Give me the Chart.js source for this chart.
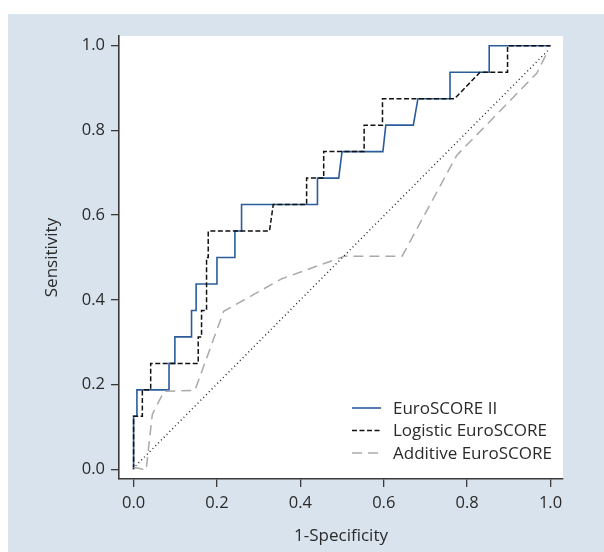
<!DOCTYPE html>
<html>
<head>
<meta charset="utf-8">
<script src="https://cdn.jsdelivr.net/npm/chart.js@4"></script>
<style>
    html, body { margin: 0; padding: 0; background: #ffffff; }
    #wrap { width: 604px; height: 552px; position: relative; }
</style>
</head>
<body>
<div id="wrap"><canvas id="roc" width="604" height="552"></canvas></div>
<script>
// ROC curves
const euro2X = [0, 0, 0.008, 0.008, 0.085, 0.085, 0.099, 0.099, 0.139, 0.139, 0.150, 0.150, 0.200, 0.200, 0.243, 0.243, 0.259, 0.259, 0.441, 0.441, 0.492, 0.500, 0.598, 0.605, 0.671, 0.682, 0.759, 0.759, 0.853, 0.853, 1.0];
const euro2Y = [0, 0.125, 0.125, 0.1875, 0.1875, 0.25, 0.25, 0.3125, 0.3125, 0.375, 0.375, 0.4375, 0.4375, 0.5, 0.5, 0.5625, 0.5625, 0.625, 0.625, 0.6875, 0.6875, 0.75, 0.75, 0.8125, 0.8125, 0.875, 0.875, 0.9375, 0.9375, 1.0, 1.0];

const logisticX = [0, 0, 0.021, 0.021, 0.041, 0.041, 0.155, 0.155, 0.163, 0.163, 0.175, 0.175, 0.179, 0.179, 0.326, 0.335, 0.415, 0.415, 0.456, 0.456, 0.553, 0.553, 0.597, 0.597, 0.770, 0.831, 0.897, 0.897, 1.0];
const logisticY = [0, 0.125, 0.125, 0.1875, 0.1875, 0.25, 0.25, 0.3125, 0.3125, 0.375, 0.375, 0.5, 0.5, 0.5625, 0.5625, 0.625, 0.625, 0.6875, 0.6875, 0.75, 0.75, 0.8125, 0.8125, 0.875, 0.875, 0.9375, 0.9375, 1.0, 1.0];

const additiveX = [0, 0.015, 0.030, 0.045, 0.073, 0.147, 0.216, 0.356, 0.506, 0.644, 0.775, 0.967, 0.995];
const additiveY = [0.004, 0.002, -0.002, 0.13, 0.184, 0.186, 0.373, 0.45, 0.503, 0.503, 0.741, 0.935, 0.99];

const diagX = [0.005, 0.995];
const diagY = [0.008, 0.99];

const seriesNames = ["EuroSCORE II", "Logistic EuroSCORE", "Additive EuroSCORE"];
const xTicks = [0, 0.2, 0.4, 0.6, 0.8, 1.0];
const yTicks = [0, 0.2, 0.4, 0.6, 0.8, 1.0];

const FONT = "'Open Sans', 'Noto Sans', sans-serif";
const TEXT = "#2a2a2a";
const AXIS = "#3a3a3a";

function pts(xs, ys) {
    return xs.map((x, i) => ({ x: x, y: ys[i] }));
}

// light panel behind everything, white plot area
const panelPlugin = {
    id: "panel",
    beforeDraw(chart) {
        const { ctx, chartArea } = chart;
        ctx.save();
        ctx.fillStyle = "#ffffff";
        ctx.fillRect(0, 0, chart.width, chart.height);
        ctx.fillStyle = "#d9e3ed";
        ctx.fillRect(8, 14, chart.width - 8, chart.height - 14);
        ctx.fillStyle = "#ffffff";
        ctx.fillRect(chartArea.left, chartArea.top,
            chartArea.right - chartArea.left, chartArea.bottom - chartArea.top);
        ctx.restore();
    }
};

// legend inside the plot, bottom right (series in name order)
const insideLegend = {
    id: "insideLegend",
    afterDatasetsDraw(chart) {
        const { ctx, chartArea } = chart;
        const x0 = chartArea.left + 233;
        const x1 = x0 + 29;
        const tx = x1 + 12;
        let y = chartArea.bottom - 71;
        ctx.save();
        ctx.font = "17px " + FONT;
        ctx.textBaseline = "middle";
        seriesNames.forEach((name) => {
            const ds = chart.data.datasets.find((d) => d.label === name);
            ctx.beginPath();
            ctx.strokeStyle = ds.borderColor;
            ctx.lineWidth = ds.borderWidth;
            ctx.setLineDash(ds.borderDash || []);
            ctx.moveTo(x0, y);
            ctx.lineTo(x1, y);
            ctx.stroke();
            ctx.setLineDash([]);
            ctx.fillStyle = TEXT;
            ctx.fillText(ds.label, tx, y + 1);
            y += 22.5;
        });
        ctx.restore();
    }
};

new Chart(document.getElementById("roc"), {
    type: "line",
    data: {
        datasets: [
            {
                label: "diagonal",
                data: pts(diagX, diagY),
                borderColor: "#222222",
                borderWidth: 1.4,
                borderDash: [1, 3],
            },
            {
                label: seriesNames[2],
                data: pts(additiveX, additiveY),
                borderColor: "#aaaaaa",
                borderWidth: 1.5,
                borderDash: [10, 6],
            },
            {
                label: seriesNames[1],
                data: pts(logisticX, logisticY),
                borderColor: "#111111",
                borderWidth: 1.5,
                borderDash: [5, 2.5],
            },
            {
                label: seriesNames[0],
                data: pts(euro2X, euro2Y),
                borderColor: "#2b5c9b",
                borderWidth: 1.6,
            },
        ].map((d) => Object.assign(d, { pointRadius: 0, tension: 0, fill: false })),
    },
    options: {
        responsive: false,
        animation: false,
        events: [],
        layout: { padding: { left: 0, top: 36, right: 41, bottom: 0 } },
        plugins: {
            legend: { display: false },
            tooltip: { enabled: false },
        },
        scales: {
            x: {
                type: "linear",
                min: -0.035,
                max: 1.03,
                afterBuildTicks: (axis) => { axis.ticks = xTicks.map((v) => ({ value: v })); },
                afterFit: (axis) => { axis.height = 73; },
                grid: { drawOnChartArea: false, drawTicks: true, tickLength: 8, color: AXIS, lineWidth: 1.3 },
                border: { display: true, color: AXIS, width: 1.6 },
                ticks: {
                    padding: 6,
                    color: TEXT,
                    font: { family: FONT, size: 16.5 },
                    callback: (v) => v.toFixed(1),
                },
                title: {
                    display: true,
                    text: "1-Specificity",
                    color: TEXT,
                    font: { family: FONT, size: 17 },
                    padding: { top: 0, bottom: 6 },
                },
            },
            y: {
                type: "linear",
                min: -0.023,
                max: 1.023,
                afterBuildTicks: (axis) => { axis.ticks = yTicks.map((v) => ({ value: v })); },
                afterFit: (axis) => { axis.width = 119; },
                grid: { drawOnChartArea: false, drawTicks: true, tickLength: 8, color: AXIS, lineWidth: 1.3 },
                border: { display: true, color: AXIS, width: 1.6 },
                ticks: {
                    padding: 6,
                    color: TEXT,
                    font: { family: FONT, size: 16.5 },
                    callback: (v) => v.toFixed(1),
                },
                title: {
                    display: true,
                    text: "Sensitivity",
                    color: TEXT,
                    font: { family: FONT, size: 17 },
                    padding: { top: 42, bottom: 0 },
                },
            },
        },
    },
    plugins: [panelPlugin, insideLegend],
});
</script>
</body>
</html>
